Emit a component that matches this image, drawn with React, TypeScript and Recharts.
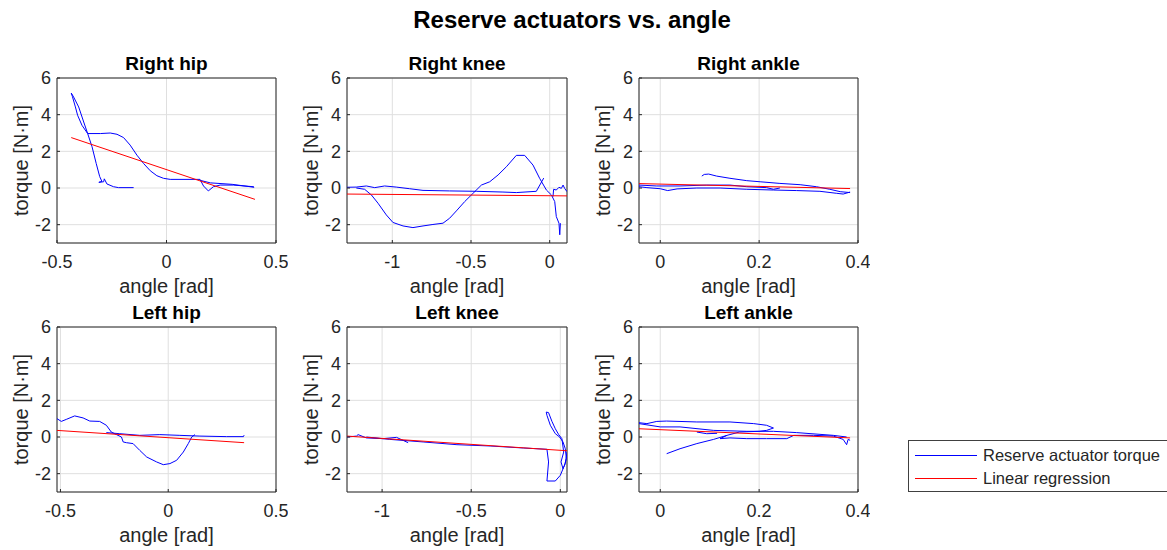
import React from 'react';
import { LineChart, Line, XAxis, YAxis, CartesianGrid, ReferenceArea, Label } from 'recharts';

type Pt = [number, number];

// shared axis settings
const yTicks = [-2, 0, 2, 4, 6];
const yDomain: [number, number] = [-3, 6];
const hipTicks = [-0.5, 0, 0.5];
const kneeTicks = [-1, -0.5, 0];
const ankleTicks = [0, 0.2, 0.4];

// Right hip
const rightHipTorque: Pt[][] = [
  [
    [-0.15, 0.02], [-0.219, 0.02], [-0.242, 0.07], [-0.272, 0.22], [-0.284, 0.5], [-0.287, 0.34],
    [-0.309, 0.31], [-0.295, 0.36], [-0.305, 0.62], [-0.321, 1.34], [-0.34, 2.25], [-0.36, 2.97],
    [-0.386, 3.42], [-0.406, 3.97], [-0.416, 4.42], [-0.43, 5.0], [-0.435, 5.18], [-0.424, 4.96],
    [-0.401, 4.42], [-0.378, 3.6], [-0.36, 2.97], [-0.302, 2.97], [-0.257, 3.0], [-0.226, 2.93],
    [-0.196, 2.75], [-0.166, 2.34], [-0.135, 1.79], [-0.105, 1.34], [-0.074, 0.94], [-0.044, 0.67],
    [-0.014, 0.53], [0.017, 0.47], [0.153, 0.47], [0.169, 0.11], [0.191, -0.16], [0.214, 0.07],
    [0.245, 0.16], [0.305, 0.16], [0.397, 0.07], [0.4, 0.04], [0.3, 0.2], [0.2, 0.28], [0.153, 0.42],
  ],
];
const rightHipFit: Pt[] = [[-0.435, 2.75], [0.404, -0.62]];

// Right knee
const rightKneeTorque: Pt[][] = [
  [
    [-1.288, 0.04], [-1.229, 0.05], [-1.165, 0.11], [-1.112, 0.02], [-1.049, 0.11], [-0.975, 0.05],
    [-0.89, -0.04], [-0.805, -0.13], [-0.636, -0.16], [-0.466, -0.18], [-0.297, -0.22], [-0.212, -0.25],
    [-0.085, -0.18], [-0.038, 0.54],
  ],
  [
    [-1.229, 0], [-1.176, -0.07], [-1.133, -0.38], [-1.091, -0.83], [-1.038, -1.47], [-0.996, -1.88],
    [-0.932, -2.07], [-0.869, -2.16], [-0.805, -2.07], [-0.742, -1.99], [-0.678, -1.92], [-0.636, -1.65],
    [-0.593, -1.25], [-0.54, -0.74], [-0.487, -0.29], [-0.434, 0.16], [-0.381, 0.34], [-0.328, 0.71],
    [-0.275, 1.16], [-0.212, 1.78], [-0.159, 1.78], [-0.106, 1.25], [-0.064, 0.53], [-0.021, -0.11],
    [0.011, -0.38], [0.032, -0.74], [0.042, -1.56], [0.059, -1.92], [0.064, -2.55], [0.068, -1.92],
  ],
  [
    [0.021, -0.47], [0.025, -0.07], [0.042, -0.11], [0.059, 0.04], [0.074, -0.02], [0.085, 0.16],
    [0.095, -0.02], [0.11, -0.2],
  ],
];
const rightKneeFit: Pt[] = [[-1.288, -0.33], [0.11, -0.43]];

// Right ankle
const rightAnkleTorque: Pt[][] = [
  [
    [0.084, 0.65], [0.089, 0.74], [0.098, 0.76], [0.114, 0.65], [0.141, 0.53], [0.175, 0.4],
    [0.202, 0.34], [0.242, 0.25], [0.283, 0.18], [0.316, 0.07], [0.343, -0.07], [0.364, -0.2], [0.384, -0.25],
  ],
  [
    [-0.043, 0.07], [-0.027, 0.02], [0, -0.04], [0.015, -0.14], [0.034, -0.05], [0.074, 0], [0.121, 0],
    [0.175, -0.07], [0.229, -0.11], [0.276, -0.14], [0.323, -0.18], [0.357, -0.29], [0.37, -0.33], [0.384, -0.22],
  ],
  [
    [-0.043, 0.16], [-0.007, 0.11], [0.04, 0.11], [0.094, 0.16], [0.141, 0.16], [0.175, 0.07],
    [0.215, 0.02], [0.229, -0.07], [0.242, 0],
  ],
];
const rightAnkleFit: Pt[] = [[-0.043, 0.24], [0.384, -0.03]];

// Left hip
const leftHipTorque: Pt[][] = [
  [
    [-0.516, 1.0], [-0.496, 0.85], [-0.473, 0.96], [-0.434, 1.15], [-0.395, 1.04], [-0.364, 0.87],
    [-0.318, 0.85], [-0.287, 0.64], [-0.264, 0.27], [-0.24, 0.13], [-0.217, 0], [-0.209, -0.27],
    [-0.194, -0.31], [-0.163, -0.36], [-0.132, -0.73], [-0.1, -1.09], [-0.054, -1.36], [-0.023, -1.51],
    [0.008, -1.45], [0.039, -1.27], [0.07, -0.82], [0.093, -0.36], [0.109, 0], [0.124, 0.13],
  ],
  [
    [-0.287, 0.24], [-0.225, 0.18], [-0.132, 0.09], [-0.039, 0.13], [0.054, 0.09], [0.147, 0.05],
    [0.271, 0.02], [0.349, 0.02], [0.352, 0.1],
  ],
];
const leftHipFit: Pt[] = [[-0.516, 0.36], [0.352, -0.31]];

// Left knee
const leftKneeTorque: Pt[][] = [
  [
    [-1.197, 0], [-1.144, 0.05], [-1.135, 0.13], [-1.088, -0.05], [-0.994, -0.09], [-0.919, -0.02], [-0.854, -0.31],
  ],
  [
    [-1.088, 0], [-0.957, -0.13], [-0.77, -0.27], [-0.58, -0.42], [-0.394, -0.49], [-0.206, -0.6],
    [-0.075, -0.67], [-0.066, -1.36], [-0.075, -2.4], [-0.028, -2.4], [0, -2.09], [0.023, -1.55],
    [0.034, -1.18], [0.028, -0.64], [0.015, -0.27], [-0.004, 0], [-0.028, 0.18], [-0.056, 0.64],
    [-0.075, 1.18], [-0.079, 1.36], [-0.066, 1.33], [-0.047, 0.85], [-0.028, 0.45], [-0.009, 0.13],
    [0.009, -0.09], [0.019, -0.82], [0.004, -1.36], [0.015, -1.73], [0.028, -1.45], [0.0375, -0.82],
  ],
];
const leftKneeFit: Pt[] = [[-1.197, 0.05], [0.0375, -0.75]];

// Left ankle
const leftAnkleTorque: Pt[][] = [
  [
    [-0.043, 0.78], [-0.027, 0.73], [-0.007, 0.85], [0.013, 0.87], [0.074, 0.82], [0.141, 0.82],
    [0.189, 0.73], [0.215, 0.64], [0.229, 0.49], [0.215, 0.36], [0.2, 0.31], [0.16, 0.27], [0.135, 0.09],
    [0.121, -0.09], [0.141, -0.05], [0.175, -0.09], [0.215, -0.09], [0.256, -0.09], [0.27, 0.09],
    [0.31, 0.09], [0.35, 0.05], [0.37, -0.13], [0.377, -0.42], [0.38, -0.13], [0.384, -0.18],
  ],
  [
    [-0.043, 0.73], [0, 0.55], [0.04, 0.55], [0.108, 0.36], [0.175, 0.31], [0.229, 0.31], [0.276, 0.24],
    [0.35, 0.09], [0.377, 0],
  ],
  [[0.013, -0.91], [0.04, -0.64], [0.074, -0.36], [0.108, -0.13], [0.135, 0.09]],
  [[0.074, 0.27], [0.094, 0.18], [0.115, 0.2]],
];
const leftAnkleFit: Pt[] = [[-0.043, 0.45], [0.384, -0.05]];

const BOX_H = 165;
const PAD_L = 57;
const PAD_T = 38;
const PAD_R = 12;
const PAD_B = 62;
const AXIS = '#262626';
const FONT = '"Liberation Sans", Arial, sans-serif';

const panels = [
  { title: 'Right hip', left: 57, top: 78, width: 219, domain: [-0.5, 0.5], ticks: hipTicks, torque: rightHipTorque, fit: rightHipFit },
  { title: 'Right knee', left: 347, top: 78, width: 220, domain: [-1.288, 0.11], ticks: kneeTicks, torque: rightKneeTorque, fit: rightKneeFit },
  { title: 'Right ankle', left: 639, top: 78, width: 219, domain: [-0.043, 0.4], ticks: ankleTicks, torque: rightAnkleTorque, fit: rightAnkleFit },
  { title: 'Left hip', left: 57, top: 327, width: 219, domain: [-0.516, 0.5], ticks: hipTicks, torque: leftHipTorque, fit: leftHipFit },
  { title: 'Left knee', left: 347, top: 327, width: 220, domain: [-1.197, 0.0375], ticks: kneeTicks, torque: leftKneeTorque, fit: leftKneeFit },
  { title: 'Left ankle', left: 639, top: 327, width: 219, domain: [-0.043, 0.4], ticks: ankleTicks, torque: leftAnkleTorque, fit: leftAnkleFit },
];

const toRows = (pts: Pt[]) => pts.map(([x, y]) => ({ x, y }));

const XLabel = (props: any) => {
  const { x, y, width } = props.viewBox;
  return (
    <text x={x + width / 2} y={y + 50} textAnchor="middle" fill={AXIS} fontSize={20}>
      angle [rad]
    </text>
  );
};

const YLabel = (props: any) => {
  const { x, y, width, height } = props.viewBox;
  const bx = x + width - 29;
  const cy = y + height / 2;
  return (
    <text x={bx} y={cy} transform={`rotate(-90 ${bx} ${cy})`} textAnchor="middle" fill={AXIS} fontSize={20}>
      torque [N·m]
    </text>
  );
};

function Panel({ p }: { p: (typeof panels)[number] }) {
  return (
    <div style={{ position: 'absolute', left: p.left - PAD_L, top: p.top - PAD_T }}>
      <LineChart
        width={PAD_L + p.width + PAD_R}
        height={PAD_T + BOX_H + PAD_B}
        margin={{ top: PAD_T, right: PAD_R, bottom: 0, left: 0 }}
      >
        <CartesianGrid stroke="#dfdfdf" />
        <XAxis
          type="number"
          dataKey="x"
          domain={p.domain}
          ticks={p.ticks}
          interval={0}
          allowDataOverflow
          height={PAD_B}
          axisLine={false}
          stroke={AXIS}
          tickSize={-3}
          tickMargin={15}
          tick={{ fill: AXIS, fontSize: 18 }}
        >
          <Label content={XLabel} />
        </XAxis>
        <YAxis
          type="number"
          domain={yDomain}
          ticks={yTicks}
          interval={0}
          allowDataOverflow
          width={PAD_L}
          axisLine={false}
          stroke={AXIS}
          tickSize={-3}
          tickMargin={9}
          tick={{ fill: AXIS, fontSize: 18 }}
        >
          <Label content={YLabel} />
        </YAxis>
        {p.torque.map((seg, i) => (
          <Line
            key={i}
            data={toRows(seg)}
            dataKey="y"
            type="linear"
            stroke="#0000ff"
            strokeWidth={1}
            dot={false}
            activeDot={false}
            isAnimationActive={false}
          />
        ))}
        <Line
          data={toRows(p.fit)}
          dataKey="y"
          type="linear"
          stroke="#ff0000"
          strokeWidth={1}
          dot={false}
          activeDot={false}
          isAnimationActive={false}
        />
        <ReferenceArea
          x1={p.domain[0]}
          x2={p.domain[1]}
          y1={yDomain[0]}
          y2={yDomain[1]}
          fill="none"
          fillOpacity={0}
          stroke={AXIS}
          strokeWidth={1}
          label={{ value: p.title, position: 'top', offset: 8, fontSize: 19, fontWeight: 'bold', fill: '#000' }}
        />
      </LineChart>
    </div>
  );
}

export default function App() {
  return (
    <div
      style={{
        position: 'absolute',
        left: 0,
        top: 0,
        width: 1167,
        height: 550,
        overflow: 'hidden',
        background: '#fff',
        fontFamily: FONT,
      }}
    >
      <div
        style={{
          position: 'absolute',
          left: 0,
          top: 8,
          width: 1144,
          textAlign: 'center',
          fontSize: 24,
          lineHeight: '24px',
          fontWeight: 'bold',
          color: '#000',
        }}
      >
        Reserve actuators vs. angle
      </div>
      {panels.map((p) => (
        <Panel key={p.title} p={p} />
      ))}
      <div
        style={{
          position: 'absolute',
          left: 908,
          top: 440,
          width: 262,
          height: 52,
          boxSizing: 'border-box',
          border: '1px solid #404040',
          background: '#fff',
          fontSize: 16.5,
          color: '#262626',
        }}
      >
        <div style={{ position: 'absolute', left: 6, top: 14, width: 62, borderTop: '1px solid #0000ff' }} />
        <div style={{ position: 'absolute', left: 74, top: 4, lineHeight: '20px', whiteSpace: 'nowrap' }}>
          Reserve actuator torque
        </div>
        <div style={{ position: 'absolute', left: 6, top: 37, width: 62, borderTop: '1px solid #ff0000' }} />
        <div style={{ position: 'absolute', left: 74, top: 27, lineHeight: '20px', whiteSpace: 'nowrap' }}>
          Linear regression
        </div>
      </div>
    </div>
  );
}
